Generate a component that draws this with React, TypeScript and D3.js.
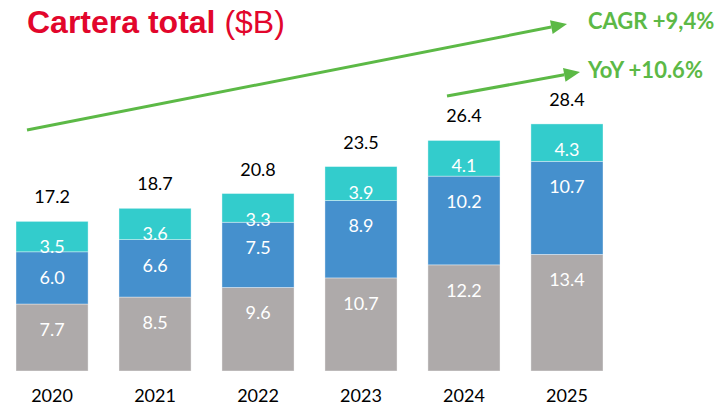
import React, { useEffect, useRef } from "react";
import * as d3 from "d3";

// Cartera total ($B), by year
const years = ["2020", "2021", "2022", "2023", "2024", "2025"];
const greyValues = [7.7, 8.5, 9.6, 10.7, 12.2, 13.4];
const blueValues = [6.0, 6.6, 7.5, 8.9, 10.2, 10.7];
const tealValues = [3.5, 3.6, 3.3, 3.9, 4.1, 4.3];
const totalLabels = ["17.2", "18.7", "20.8", "23.5", "26.4", "28.4"];
const seriesKeys = ["grey", "blue", "teal"];
const seriesColors = ["#AEAAAA", "#4590CD", "#33CCCC"];

const W = 725;
const H = 407;
const RED = "#E2062C";
const GREEN = "#5CB946";
const FONT = "Lato, 'Open Sans', sans-serif";

const App = () => {
	const ref = useRef<SVGSVGElement>(null);

	useEffect(() => {
		if (!ref.current) return;
		const svg = d3.select(ref.current);
		svg.selectAll("*").remove();

		const rows = years.map((y, i) => ({
			year: y,
			grey: greyValues[i],
			blue: blueValues[i],
			teal: tealValues[i],
		}));

		const x = d3
			.scaleBand()
			.domain(years)
			.range([16, 603])
			.paddingInner(0.3)
			.paddingOuter(0);

		const y = d3.scaleLinear().domain([0, 30]).range([371, 110]);

		const stacked = d3.stack().keys(seriesKeys)(rows as any);

		// bars
		stacked.forEach((layer, li) => {
			const g = svg.append("g");
			g.selectAll("rect")
				.data(layer)
				.enter()
				.append("rect")
				.attr("x", (d: any) => x(d.data.year))
				.attr("width", x.bandwidth())
				.attr("y", (d) => y(d[1]))
				.attr("height", (d) => y(d[0]) - y(d[1]))
				.attr("fill", seriesColors[li])
				.attr("stroke", "#ffffff")
				.attr("stroke-opacity", 0.5)
				.attr("stroke-width", 0.75);

			g.selectAll("text")
				.data(layer)
				.enter()
				.append("text")
				.attr("x", (d: any) => x(d.data.year)! + x.bandwidth() / 2)
				.attr("y", (d) => y(d[1]) + 32)
				.attr("text-anchor", "middle")
				.attr("fill", "#ffffff")
				.style("font-family", FONT)
				.style("font-size", "18px")
				.text((d: any) => d.data[seriesKeys[li]].toFixed(1));
		});

		// totals above bars
		const top = stacked[stacked.length - 1];
		svg.append("g")
			.selectAll("text")
			.data(top)
			.enter()
			.append("text")
			.attr("x", (d: any) => x(d.data.year)! + x.bandwidth() / 2)
			.attr("y", (d) => y(d[1]) - 18)
			.attr("text-anchor", "middle")
			.attr("fill", "#000000")
			.style("font-family", FONT)
			.style("font-size", "18px")
			.text((d, i) => totalLabels[i]);

		// year labels
		svg.append("g")
			.selectAll("text")
			.data(years)
			.enter()
			.append("text")
			.attr("x", (d) => x(d)! + x.bandwidth() / 2)
			.attr("y", 402)
			.attr("text-anchor", "middle")
			.attr("fill", "#000000")
			.style("font-family", FONT)
			.style("font-size", "18px")
			.text((d) => d);

		// title
		const title = svg
			.append("text")
			.attr("x", 27)
			.attr("y", 33)
			.attr("fill", RED)
			.style("font-family", "'Liberation Sans', Arial, sans-serif")
			.style("font-size", "32px");
		title.append("tspan").style("font-weight", "bold").text("Cartera total ");
		title.append("tspan").text("($B)");

		// growth arrows
		const arrow = (x1: number, y1: number, x2: number, y2: number) => {
			const ang = Math.atan2(y2 - y1, x2 - x1);
			const len = 16;
			const half = 7;
			const bx = x2 - len * Math.cos(ang);
			const by = y2 - len * Math.sin(ang);
			svg.append("line")
				.attr("x1", x1)
				.attr("y1", y1)
				.attr("x2", bx)
				.attr("y2", by)
				.attr("stroke", GREEN)
				.attr("stroke-width", 3);
			const pts = [
				[x2, y2],
				[bx + half * Math.sin(ang), by - half * Math.cos(ang)],
				[bx - half * Math.sin(ang), by + half * Math.cos(ang)],
			];
			svg.append("polygon")
				.attr("points", pts.map((p) => p.join(",")).join(" "))
				.attr("fill", GREEN);
		};
		arrow(27, 130, 567, 24);
		arrow(447, 96, 580, 72);

		const note = (txt: string, ty: number) =>
			svg.append("text")
				.attr("x", 588)
				.attr("y", ty)
				.attr("fill", GREEN)
				.style("font-family", FONT)
				.style("font-size", "22px")
				.style("font-weight", "bold")
				.text(txt);
		note("CAGR +9,4%", 29);
		note("YoY +10.6%", 78);
	}, []);

	return (
		<svg
			ref={ref}
			width={W}
			height={H}
			style={{ position: "absolute", left: 0, top: 0, background: "#fff" }}
		/>
	);
};

export default App;
